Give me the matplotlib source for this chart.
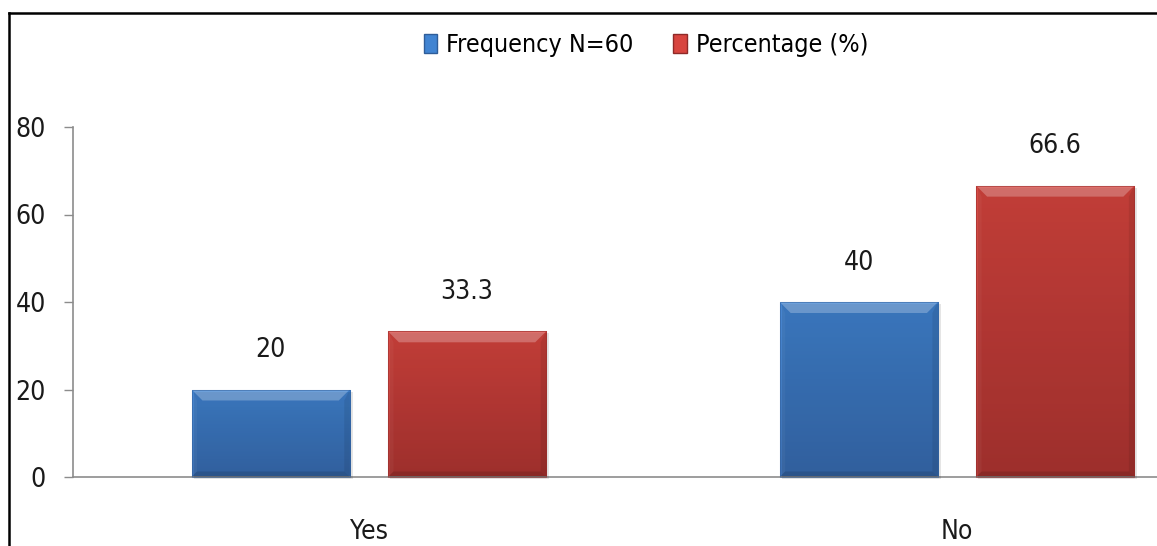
import matplotlib
matplotlib.use("Agg")
import matplotlib.pyplot as plt
import numpy as np
from matplotlib.lines import Line2D
from matplotlib.patches import Polygon, Rectangle, Patch
from matplotlib.colors import LinearSegmentedColormap
from matplotlib.transforms import IdentityTransform
from matplotlib import font_manager

# use the condensed DejaVu face when it is installed
plt.rcParams["font.family"] = ["DejaVu Sans"]
if any(f.name == "DejaVu Sans" and f.stretch == "condensed"
       for f in font_manager.fontManager.ttflist):
    plt.rcParams["font.stretch"] = "condensed"

categories = ["Yes", "No"]
frequency = [20, 40]
percentage = [33.3, 66.6]
freq_labels = ["20", "40"]
pct_labels = ["33.3", "66.6"]
series_names = ["Frequency N=60", "Percentage (%)"]
y_ticks = [0, 20, 40, 60, 80]

W, H = 1157, 546
fig = plt.figure(figsize=(W / 100, H / 100), dpi=100)
ax = fig.add_axes([73 / W, 69 / H, (W - 73) / W, 350 / H])

x = np.arange(len(categories))
width = 0.269
offset = 0.167

styles = [
    {"top": "#4184d2", "bottom": "#376bb0", "edge": "#2f5d99"},
    {"top": "#d8453f", "bottom": "#b03532", "edge": "#8f2a28"},
]

bars_f = ax.bar(x - offset, frequency, width, color=styles[0]["top"], linewidth=0, zorder=2)
bars_p = ax.bar(x + offset, percentage, width, color=styles[1]["top"], linewidth=0, zorder=2)

ax.set_xlim(-0.503, 1.340)
ax.set_ylim(0, 80)
ax.set_yticks(y_ticks)
ax.set_xticks(x)
ax.set_xticklabels(categories)

for side in ["top", "right"]:
    ax.spines[side].set_visible(False)
for side in ["left", "bottom"]:
    ax.spines[side].set_color("#8c8c8c")
    ax.spines[side].set_linewidth(1.2)

ax.tick_params(axis="y", length=6.5, width=1.0, color="#8c8c8c", pad=13, labelsize=19, labelcolor="#1a1a1a")
ax.tick_params(axis="x", length=0, pad=30, labelsize=19, labelcolor="#1a1a1a")

fig.canvas.draw()


def shade_bar(bar, st):
    # gradient fill clipped to the bar, then a soft bevel on each edge
    x0, y0 = bar.get_x(), bar.get_y()
    w, h = bar.get_width(), bar.get_height()
    cmap = LinearSegmentedColormap.from_list("g", [st["bottom"], st["top"]])
    grad = np.linspace(0, 1, 256).reshape(-1, 1)
    im = ax.imshow(grad, cmap=cmap, aspect="auto", origin="lower",
                   extent=(x0, x0 + w, y0, y0 + h), zorder=2.1)
    im.set_clip_path(bar)

    (px0, py0), (px1, py1) = ax.transData.transform([(x0, y0), (x0 + w, y0 + h)])
    b = 11
    s = b * 0.5
    tr = IdentityTransform()

    # drop shadow
    fig.add_artist(Rectangle((px0 + 2, py0 - 2), px1 - px0 + 1, py1 - py0,
                             transform=tr, facecolor="black", alpha=0.10,
                             edgecolor="none", zorder=1.5))
    top = Polygon([(px0, py1), (px1, py1), (px1 - b, py1 - b), (px0 + b, py1 - b)],
                  closed=True, transform=tr, facecolor="white", alpha=0.25,
                  edgecolor="none", zorder=3)
    left = Polygon([(px0, py0), (px0 + s, py0 + s), (px0 + s, py1 - b), (px0, py1)],
                   closed=True, transform=tr, facecolor="white", alpha=0.04,
                   edgecolor="none", zorder=3)
    right = Polygon([(px1, py0), (px1 - s, py0 + s), (px1 - s, py1 - b), (px1, py1)],
                    closed=True, transform=tr, facecolor="black", alpha=0.08,
                    edgecolor="none", zorder=3)
    bot = Polygon([(px0, py0), (px1, py0), (px1 - s, py0 + s), (px0 + s, py0 + s)],
                  closed=True, transform=tr, facecolor="black", alpha=0.12,
                  edgecolor="none", zorder=3)
    for p in (top, left, right, bot):
        fig.add_artist(p)
    fig.add_artist(Rectangle((px0, py0), px1 - px0, py1 - py0, transform=tr,
                             facecolor="none", edgecolor=st["edge"], linewidth=0.8,
                             alpha=0.5, zorder=3.1))


for bar in bars_f:
    shade_bar(bar, styles[0])
for bar in bars_p:
    shade_bar(bar, styles[1])

for bars, labels in [(bars_f, freq_labels), (bars_p, pct_labels)]:
    for bar, lab in zip(bars, labels):
        ax.annotate(lab, (bar.get_x() + bar.get_width() / 2, bar.get_height()),
                    xytext=(0, 19), textcoords="offset points",
                    ha="center", va="bottom", fontsize=19, color="#1a1a1a")

handles = [Patch(facecolor=styles[0]["top"], edgecolor=styles[0]["edge"], label=series_names[0]),
           Patch(facecolor=styles[1]["top"], edgecolor=styles[1]["edge"], label=series_names[1])]
fig.legend(handles=handles, loc="center", bbox_to_anchor=(646 / W, 1 - 45 / H),
           ncol=2, frameon=False, fontsize=18, handlelength=0.55, handleheight=0.8,
           handletextpad=0.35, columnspacing=1.6)

# chart frame: top and left edges
fig.add_artist(Line2D([9 / W, 1.0], [1 - 13 / H, 1 - 13 / H], color="black", linewidth=1.8,
                      transform=fig.transFigure))
fig.add_artist(Line2D([9 / W, 9 / W], [0, 1 - 13 / H], color="black", linewidth=1.8,
                      transform=fig.transFigure))

fig.savefig("out.png", dpi=100, facecolor="white")
